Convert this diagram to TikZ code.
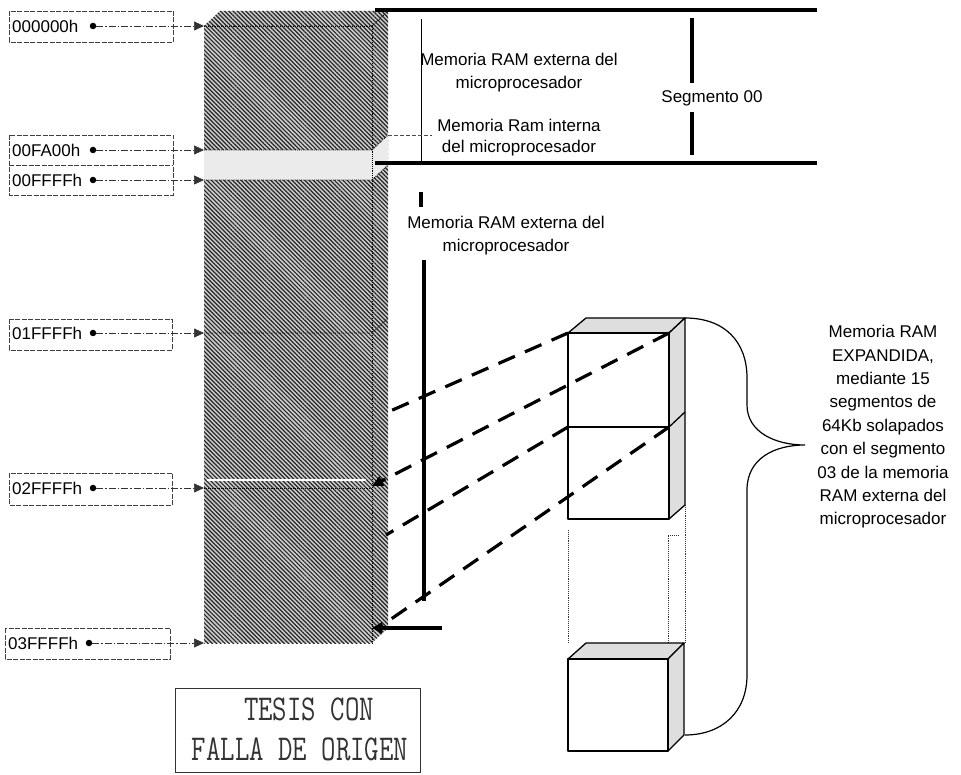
\documentclass[tikz,border=0pt]{standalone}
\usepackage{fontspec}
\setmainfont{Liberation Sans}
\usetikzlibrary{arrows.meta,patterns.meta}
\begin{document}
\begin{tikzpicture}[x=1pt,y=-1pt,
  txt/.style={font=\fontsize{17}{23}\selectfont, inner sep=0pt, align=center},
  hatch/.style={pattern={Lines[angle=-45,distance=3pt,line width=1.2pt]}, pattern color=black!85},
  under/.style={fill=black!20},
  edgeline/.style={draw=black, densely dotted, line width=0.9pt},
  lbox/.style={draw=black!75, dash pattern=on 5pt off 1.5pt, line width=0.7pt},
  lconn/.style={draw=black!80, line width=0.7pt, dash pattern=on 7pt off 2pt on 1.5pt off 2pt, -{Triangle[length=10pt,width=9pt]}},
  proj/.style={line width=3.2pt, dash pattern=on 18pt off 11pt},
  bar/.style={line width=3.5pt},
  stip/.style={fill=black!13},
  blk/.style={draw=black, line width=1.3pt, line join=round},
  dotv/.style={draw=black!80, densely dotted, line width=0.9pt},
  dotnode/.style={circle, fill=black, inner sep=0pt, minimum size=6.5pt},
  stamp/.style={inner sep=0pt, text=black!80},
]
\useasboundingbox (0,0) rectangle (961,775);

% ---------- main column ----------
\coordinate (ftl) at (204,26);
\coordinate (ftr) at (372,26);
\coordinate (fbl) at (204,643);
\coordinate (fbr) at (372,643);
\coordinate (btl) at (220,11);
\coordinate (btr) at (388,11);
\coordinate (bbr) at (388,628);

\fill[under] (ftl) -- (btl) -- (btr) -- (ftr) -- cycle;
\fill[hatch] (ftl) -- (btl) -- (btr) -- (ftr) -- cycle;
\fill[under] (ftr) -- (btr) -- (bbr) -- (fbr) -- cycle;
\fill[hatch] (ftr) -- (btr) -- (bbr) -- (fbr) -- cycle;
\fill[under] (ftl) rectangle (fbr);
\fill[hatch] (ftl) rectangle (fbr);

% internal RAM band
\fill[white] (204,150) rectangle (372,180);
\fill[black!8] (204,150) rectangle (372,180);
\fill[white] (372,150) -- (388,135) -- (388,165) -- (372,180) -- cycle;
\fill[black!8] (372,150) -- (388,135) -- (388,165) -- (372,180) -- cycle;

% edges
\draw[edgeline] (ftl) -- (ftr) -- (fbr);
\draw[edgeline] (ftr) -- (btr);
\draw[edgeline] (204,150) -- (372,150) -- (388,135);
\draw[edgeline] (204,180) -- (372,180) -- (388,165);
\draw[edgeline] (204,333) -- (372,333) -- (388,318);
\draw[edgeline] (204,488) -- (372,488);
\draw[white, line width=2pt] (207,480) -- (366,480);

% ---------- left address labels ----------
\draw[lbox] (9,11) rectangle (173,42);
\draw[lbox] (9,135) rectangle (173,195);
\draw[lbox] (9,165) -- (173,165);
\draw[lbox] (9,319) rectangle (172,350);
\draw[lbox] (9,473) rectangle (172,505);
\draw[lbox] (5,628) rectangle (170,659);

\node[txt, anchor=west] (l0) at (12,26) {000000h};
\node[txt, anchor=west] (l1) at (12,150) {00FA00h};
\node[txt, anchor=west] (l2) at (12,180) {00FFFFh};
\node[txt, anchor=west] (l3) at (12,333) {01FFFFh};
\node[txt, anchor=west] (l4) at (12,488) {02FFFFh};
\node[txt, anchor=west] (l5) at (8,643) {03FFFFh};

\node[dotnode] (d0) at (93,26) {};
\node[dotnode] (d1) at (93,150) {};
\node[dotnode] (d2) at (93,180) {};
\node[dotnode] (d3) at (93,333) {};
\node[dotnode] (d4) at (93,488) {};
\node[dotnode] (d5) at (89,643) {};

\coordinate (a0) at (204,26);
\coordinate (a1) at (204,150);
\coordinate (a2) at (204,180);
\coordinate (a3) at (204,333);
\coordinate (a4) at (204,488);
\coordinate (a5) at (204,643);

\draw[lconn] (d0) -- (a0);
\draw[lconn] (d1) -- (a1);
\draw[lconn] (d2) -- (a2);
\draw[lconn] (d3) -- (a3);
\draw[lconn] (d4) -- (a4);
\draw[lconn] (d5) -- (a5);

% ---------- segment 00 region ----------
\coordinate (s0a) at (375,10);
\coordinate (s0b) at (817,10);
\coordinate (s1a) at (375,163);
\coordinate (s1b) at (817,163);
\draw[bar] (s0a) -- (s0b);
\draw[bar] (s1a) -- (s1b);
\draw[line width=0.6pt] (421,19) -- (421,162);
\draw[black!70, dash pattern=on 4pt off 2pt, line width=0.6pt] (388,135) -- (432,135);

\node[txt] (t1) at (519,73) {Memoria RAM externa del\\microprocesador};
\node[txt, font=\fontsize{17}{21}\selectfont] (t2) at (519,138) {Memoria Ram interna\\del microprocesador};

\draw[bar] (692,18) -- (692,83);
\draw[bar] (692,112) -- (692,155);
\node[txt] (seg) at (712,98) {Segmento 00};

% ---------- middle label ----------
\draw[bar] (421,192) -- (421,207);
\node[txt] (t3) at (506,236) {Memoria RAM externa del\\microprocesador};
\draw[bar] (424,260) -- (424,601);
\coordinate (arrS) at (442,628);
\coordinate (arrE) at (372,628);
\draw[bar, -{Triangle[length=10pt,width=11pt]}] (arrS) -- (arrE);

% ---------- expanded memory blocks ----------
% upper stack
\coordinate (u1) at (568,333);
\coordinate (u2) at (669,333);
\coordinate (u3) at (568,427);
\coordinate (u4) at (669,427);
\coordinate (u5) at (568,519);
\coordinate (u6) at (669,519);
\filldraw[stip, blk] (u1) -- (586,318) -- (685,318) -- (u2) -- cycle;
\filldraw[stip, blk] (u2) -- (685,318) -- (685,505) -- (u6) -- cycle;
\draw[blk] (u4) -- (685,412);
\draw[blk] (u1) rectangle (u6);
\draw[blk] (u3) -- (u4);

% dotted continuation
\draw[dotv] (568,530) -- (568,643);
\draw[dotv] (685,505) -- (685,643);
\draw[dotv] (668,643) -- (668,535) -- (678,535);

% bottom block
\coordinate (w1) at (568,659);
\coordinate (w2) at (668,659);
\coordinate (w6) at (668,751);
\filldraw[stip, blk] (w1) -- (586,643) -- (684,643) -- (w2) -- cycle;
\filldraw[stip, blk] (w2) -- (684,643) -- (684,735) -- (w6) -- cycle;
\draw[blk] (w1) rectangle (w6);

% projection lines
\coordinate (pA) at (388,412);
\coordinate (pB) at (372,486);
\coordinate (pC) at (386,535);
\coordinate (pD) at (381,626);
\draw[proj] (u1) -- (pA);
\draw[proj, -{Triangle[length=11pt,width=10pt]}] (u2) -- (pB);
\draw[proj] (u3) -- (pC);
\draw[proj] (u4) -- (pD);

% brace
\coordinate (brT) at (685,318);
\coordinate (brB) at (685,735);
\coordinate (brTip) at (805,445);
\draw[line width=1.2pt] (brT) .. controls (725,318) and (747,342) .. (747,378)
  -- (747,405) .. controls (747,432) and (775,445) .. (brTip)
  .. controls (775,445) and (747,458) .. (747,490)
  -- (747,675) .. controls (747,712) and (722,735) .. (brB);

\node[txt, font=\fontsize{17}{23.4}\selectfont] (exp) at (883,427) {Memoria RAM\\EXPANDIDA,\\mediante 15\\segmentos de\\64Kb solapados\\con el segmento\\03 de la memoria\\RAM externa del\\microprocesador};

% ---------- stamp ----------
\draw[line width=0.9pt, black!80] (175,688) rectangle (420,772);
\node[stamp] (st1) at (309,709) {\scalebox{1}[1.3]{\ttfamily\fontsize{28}{30}\selectfont TESIS CON}};
\node[stamp] (st2) at (300,749) {\scalebox{1}[1.3]{\ttfamily\fontsize{28}{30}\selectfont FALLA DE ORIGEN}};

\end{tikzpicture}
\end{document}
